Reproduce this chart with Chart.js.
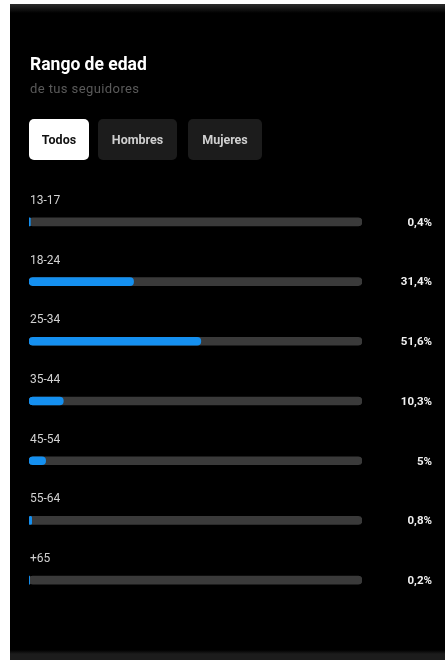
<!DOCTYPE html>
<html>
<head>
<meta charset="utf-8">
<script src="https://cdn.jsdelivr.net/npm/chart.js@4"></script>
<style>
  html, body { margin: 0; padding: 0; background: #fff; }
  body { width: 445px; height: 660px; position: relative; overflow: hidden; font-family: Roboto, "Noto Sans", sans-serif; }
  .panel {
    position: absolute; left: 10px; top: 4px; width: 435px; height: 656px;
    background: linear-gradient(#2c2c2c 0px, #000 9px, #000 646px, #1c1c1c 650px);
  }
  #chart { position: absolute; left: 0; top: 0; }
  .title { position: absolute; left: 30px; top: 54px; color: #fff; font-size: 17.5px; font-weight: 700; }
  .sub { position: absolute; left: 30px; top: 81px; color: #5a5a5a; font-size: 13px; letter-spacing: 0.4px; }
  .btn {
    position: absolute; top: 119px; height: 41px; line-height: 41px; border-radius: 5px;
    font-size: 12.5px; font-weight: 700; text-align: center; background: #1c1c1c; color: #d0d0d0;
  }
  .btn.on { background: #fff; color: #111; }
</style>
</head>
<body>
<div class="panel"></div>
<canvas id="chart" width="445" height="660"></canvas>
<div class="title">Rango de edad</div>
<div class="sub">de tus seguidores</div>
<div class="btn on" style="left:29px;width:60px;">Todos</div>
<div class="btn" style="left:98px;width:79px;">Hombres</div>
<div class="btn" style="left:188px;width:74px;">Mujeres</div>
<script>
  const ageRanges = ["13-17", "18-24", "25-34", "35-44", "45-54", "55-64", "+65"];
  const percentages = [0.4, 31.4, 51.6, 10.3, 5, 0.8, 0.2];
  const valueLabels = ["0,4%", "31,4%", "51,6%", "10,3%", "5%", "0,8%", "0,2%"];
  const trackMax = [100, 100, 100, 100, 100, 100, 100];

  // etiquetas encima de cada barra y porcentaje a la derecha
  const rowLabels = {
    id: "rowLabels",
    afterDatasetsDraw(chart) {
      const c = chart.ctx;
      const x = chart.scales.x;
      const y = chart.scales.y;
      c.save();
      c.textBaseline = "middle";
      ageRanges.forEach((lab, i) => {
        const py = y.getPixelForValue(i);
        c.font = "12px Roboto, sans-serif";
        c.fillStyle = "#d2d2d2";
        c.textAlign = "left";
        c.fillText(lab, x.getPixelForValue(0) + 1, py - 21);
        c.font = "bold 11.5px Roboto, sans-serif";
        c.fillStyle = "#f0f0f0";
        c.textAlign = "right";
        c.fillText(valueLabels[i], 432, py + 1);
      });
      c.restore();
    }
  };

  new Chart(document.getElementById("chart"), {
    type: "bar",
    data: {
      labels: ageRanges,
      datasets: [
        {
          data: percentages,
          backgroundColor: "#1590f0",
          barThickness: 8,
          borderRadius: 4,
          borderSkipped: false,
          grouped: false,
          order: 0
        },
        {
          data: trackMax,
          backgroundColor: "#3a3a3a",
          barThickness: 8,
          borderRadius: 4,
          borderSkipped: false,
          grouped: false,
          order: 1
        }
      ]
    },
    options: {
      indexAxis: "y",
      responsive: false,
      animation: false,
      layout: { padding: { top: 192, bottom: 50, left: 29, right: 83 } },
      plugins: { legend: { display: false }, tooltip: { enabled: false } },
      scales: {
        x: { display: false, min: 0, max: 100 },
        y: { display: false }
      }
    },
    plugins: [rowLabels]
  });
</script>
</body>
</html>
